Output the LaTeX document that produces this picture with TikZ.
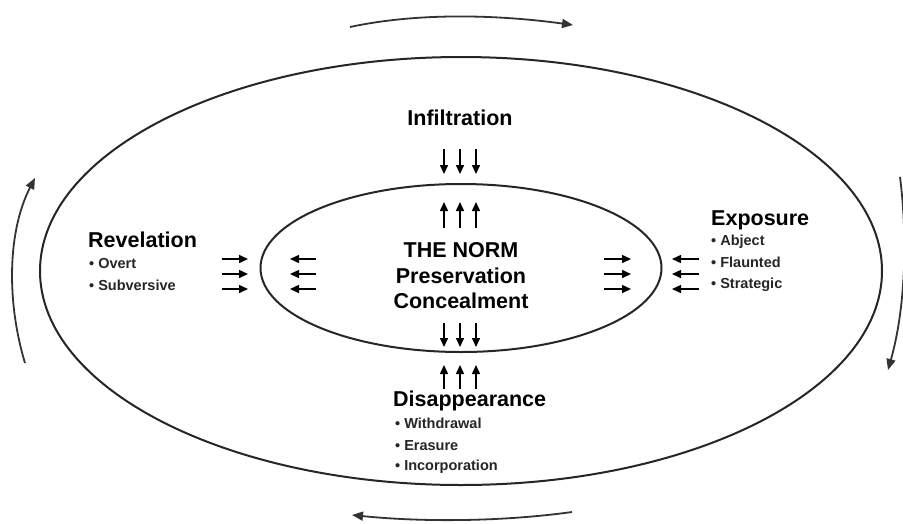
\documentclass[tikz,border=0pt]{standalone}
\usepackage{fontspec}
\setmainfont{Liberation Sans}
\usetikzlibrary{shapes.geometric,arrows.meta}
\begin{document}
\begin{tikzpicture}[x=1pt,y=-1pt,
  ring/.style={draw=black!85, line width=2pt, ellipse, inner sep=0pt},
  bigarr/.style={draw=black!80, line width=1.8pt, -{Triangle[length=11pt,width=9pt]}},
  smallarr/.style={draw=black, line width=1.5pt, -{Triangle[length=9pt,width=8pt]}},
  head/.style={font=\fontsize{21.5}{24}\selectfont\bfseries, inner sep=0pt, anchor=base west},
  headc/.style={font=\fontsize{21.5}{24}\selectfont\bfseries, inner sep=0pt, anchor=base},
  item/.style={font=\fontsize{14.5}{16}\selectfont\bfseries, inner sep=0pt, anchor=base west, text=black!85}
]
\useasboundingbox (0,0) rectangle (903,523);
\fill[white] (0,0) rectangle (903,523);

% ellipses
\node[ring, minimum width=842pt, minimum height=428pt] (outer) at (461,271) {};
\node[ring, minimum width=401pt, minimum height=168pt] (inner) at (461,268) {};

% outer circulating arrows
\coordinate (t1) at (350,27); \coordinate (t2) at (573,25);
\coordinate (b1) at (572,512); \coordinate (b2) at (352,515);
\coordinate (l1) at (25,363); \coordinate (l2) at (35,178);
\coordinate (r1) at (900,177); \coordinate (r2) at (888,370);
\draw[bigarr] (t1) .. controls (420,12) and (500,15) .. (t2);
\draw[bigarr] (b1) .. controls (500,522) and (420,522) .. (b2);
\draw[bigarr] (l1) .. controls (6,300) and (8,230) .. (l2);
\draw[bigarr] (r1) .. controls (908,240) and (905,310) .. (r2);

% texts
\node[headc] (infil) at (460,125) {Infiltration};
\node[headc] (norm) at (461,257) {THE NORM};
\node[headc] (pres) at (461,283) {Preservation};
\node[headc] (conc) at (461,308) {Concealment};

\node[head] (rev) at (88,247) {Revelation};
\node[item] (rev1) at (89,268) {\textbullet\ Overt};
\node[item] (rev2) at (89,290) {\textbullet\ Subversive};

\node[head] (exp) at (711,225) {Exposure};
\node[item] (exp1) at (711,245) {\textbullet\ Abject};
\node[item] (exp2) at (711,267) {\textbullet\ Flaunted};
\node[item] (exp3) at (711,288) {\textbullet\ Strategic};

\node[head] (dis) at (393,406) {Disappearance};
\node[item] (dis1) at (395,428) {\textbullet\ Withdrawal};
\node[item] (dis2) at (395,450) {\textbullet\ Erasure};
\node[item] (dis3) at (395,470) {\textbullet\ Incorporation};

% small arrows
\foreach \y [count=\i] in {259,274,289} {
  \coordinate (la\i) at (222,\y); \coordinate (lb\i) at (248,\y);
  \draw[smallarr] (la\i) -- (lb\i);
  \coordinate (lc\i) at (316,\y); \coordinate (ld\i) at (290,\y);
  \draw[smallarr] (lc\i) -- (ld\i);
  \coordinate (ra\i) at (604,\y); \coordinate (rb\i) at (631,\y);
  \draw[smallarr] (ra\i) -- (rb\i);
  \coordinate (rc\i) at (699,\y); \coordinate (rd\i) at (672,\y);
  \draw[smallarr] (rc\i) -- (rd\i);
}
\foreach \x [count=\i] in {444,460,476} {
  \coordinate (ta\i) at (\x,149); \coordinate (tb\i) at (\x,174);
  \draw[smallarr] (ta\i) -- (tb\i);
  \coordinate (tc\i) at (\x,228); \coordinate (td\i) at (\x,202);
  \draw[smallarr] (tc\i) -- (td\i);
  \coordinate (ba\i) at (\x,323); \coordinate (bb\i) at (\x,347);
  \draw[smallarr] (ba\i) -- (bb\i);
  \coordinate (bc\i) at (\x,389); \coordinate (bd\i) at (\x,365);
  \draw[smallarr] (bc\i) -- (bd\i);
}
\end{tikzpicture}
\end{document}
